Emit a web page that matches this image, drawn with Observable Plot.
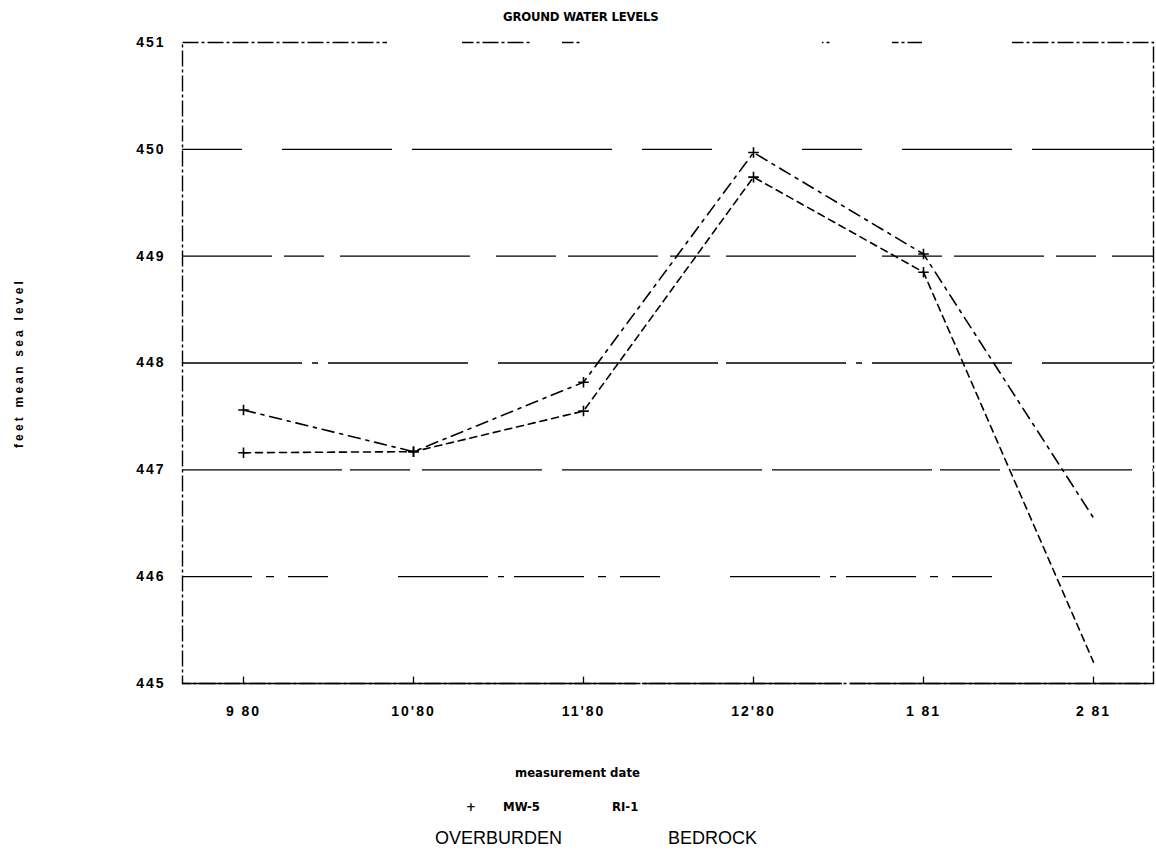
<!DOCTYPE html>
<html>
<head>
<meta charset="utf-8">
<script src="https://cdn.jsdelivr.net/npm/d3@7"></script>
<script src="https://cdn.jsdelivr.net/npm/@observablehq/plot@0.6"></script>
<style>
  html, body { margin: 0; padding: 0; background: #fff; }
  #wrap { position: relative; width: 1156px; height: 851px; background: #fff; overflow: hidden; }
  .narrow { font-family: "Liberation Sans Narrow", "DejaVu Sans Condensed", "Liberation Sans", sans-serif; font-weight: bold; color: #000; }
  #title { position: relative; height: 26px; }
  #title span { position: absolute; left: 503px; top: 9px; font-size: 13px; line-height: 15px; letter-spacing: -0.2px; }
  #below { position: relative; height: 118px; }
  #below span { position: absolute; white-space: nowrap; }
  .big { font-family: "Liberation Sans", "DejaVu Sans", sans-serif; font-size: 18px; color: #000; font-weight: normal; }
  #chart svg { display: block; }
  #chart g[aria-label="y-axis tick label"] text,
  #chart g[aria-label="x-axis tick label"] text {
    font-family: "Liberation Sans", "DejaVu Sans", sans-serif; font-size: 14px; letter-spacing: 2px;
  }
  #chart g[aria-label="y-axis label"] text {
    font-family: "Liberation Sans", "DejaVu Sans", sans-serif; font-size: 12px; letter-spacing: 3.2px;
  }
</style>
</head>
<body>
<div id="wrap">
  <div id="title" class="narrow"><span>GROUND WATER LEVELS</span></div>
  <div id="chart"></div>
  <div id="below">
    <span class="narrow" style="left:515px; top:32px; font-size:13px;">measurement date</span>
    <span class="narrow" style="left:466px; top:66px; font-size:13px;">+</span>
    <span class="narrow" style="left:503px; top:66px; font-size:13px;">MW-5</span>
    <span class="narrow" style="left:612px; top:66px; font-size:13px;">RI-1</span>
    <span class="big" style="left:435px; top:95px;">OVERBURDEN</span>
    <span class="big" style="left:668px; top:95px;">BEDROCK</span>
  </div>
</div>
<script>
// measurement dates (x categories)
const dates = ["9 80", "10'80", "11'80", "12'80", "1 81", "2 81"];
// groundwater level, feet mean sea level
const mw5 = [447.56, 447.17, 447.82, 449.97, 449.02, 446.55];
const ri1 = [447.16, 447.17, 447.55, 449.74, 448.85, 445.20];
// y axis
const yTicks = [445, 446, 447, 448, 449, 450, 451];
const gridValues = [446, 447, 448, 449, 450];

const rows = [];
dates.forEach((d, i) => {
  rows.push({date: d, level: mw5[i], well: "MW-5"});
  rows.push({date: d, level: ri1[i], well: "RI-1"});
});
const rowsMW = rows.filter(r => r.well === "MW-5");
const rowsRI = rows.filter(r => r.well === "RI-1");

const gridDash = {
  446: "70,14,8,14,40,70,90,10,6,10",
  447: "160,8,60,12,120,20,200,10",
  448: "120,10,6,10,140,30,220,8",
  449: "90,12,40,16,130,26,60,12",
  450: "60,40,110,20,200,30,70,90"
};

const chart = Plot.plot({
  width: 1156,
  height: 707,
  marginLeft: 182,
  marginRight: 3,
  marginTop: 16,
  marginBottom: 50,
  style: {
    fontFamily: '"Liberation Sans", "DejaVu Sans", sans-serif',
    fontSize: "13px",
    fontWeight: "bold",
    color: "#000",
    background: "#fff"
  },
  x: {type: "point", domain: dates, padding: 0.34, label: null, tickSize: 0, tickPadding: 23},
  y: {
    domain: [445, 451], ticks: yTicks, tickFormat: d => String(d),
    label: "feet mean sea level", labelAnchor: "center", labelOffset: 168, labelArrow: "none",
    tickSize: 0, tickPadding: 17
  },
  marks: [
    Plot.frame({stroke: "#000", strokeWidth: 1.4, strokeDasharray: "16,3,3,3"}),
    // gaps in the scanned top border
    Plot.ruleY([451], {stroke: "#fff", strokeWidth: 4, strokeDasharray: "0,205,75,70,30,20,240,10,60,30,90,40"}),
    ...gridValues.map(v => Plot.ruleY([v], {stroke: "#000", strokeWidth: 1.3, strokeDasharray: gridDash[v]})),
    Plot.ruleY([445], {stroke: "#000", strokeWidth: 1.6, strokeDasharray: "300,4,150,6,200,8"}),
    // small inward ticks on the bottom axis
    Plot.ruleX(dates, {x: d => d, y1: 445, y2: 445.06, stroke: "#000", strokeWidth: 1.3}),
    Plot.line(rowsMW, {x: "date", y: "level", stroke: "#000", strokeWidth: 1.6, strokeDasharray: "12,6,3,6"}),
    Plot.line(rowsRI, {x: "date", y: "level", stroke: "#000", strokeWidth: 1.6, strokeDasharray: "7,5"}),
    Plot.dot(rows.filter(r => r.date !== "2 81"), {x: "date", y: "level", symbol: "plus", r: 3.5, stroke: "#000", strokeWidth: 1.6})
  ]
});
document.getElementById("chart").appendChild(chart);
</script>
</body>
</html>
